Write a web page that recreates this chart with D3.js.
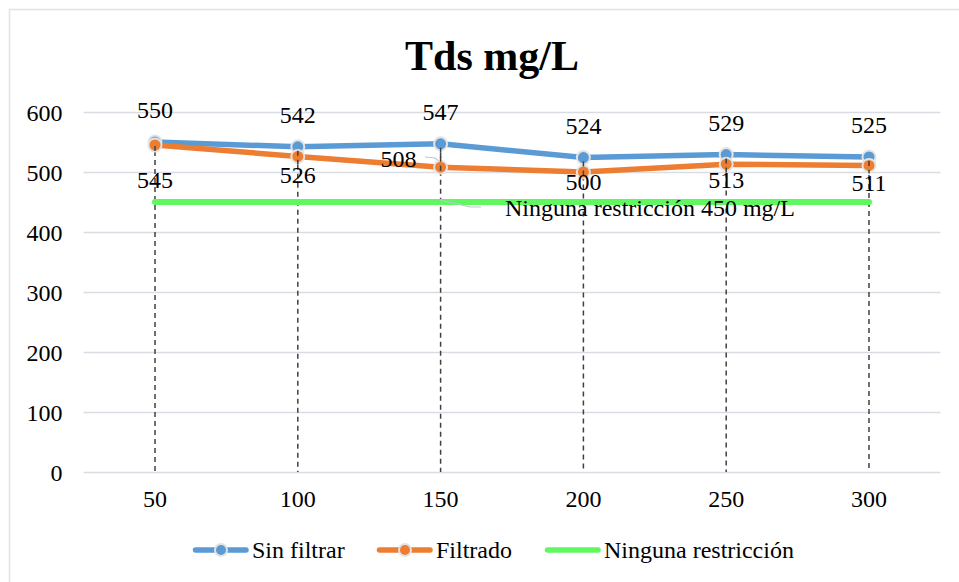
<!DOCTYPE html>
<html>
<head>
<meta charset="utf-8">
<script src="https://cdn.jsdelivr.net/npm/d3@7"></script>
<style>
  body { margin: 0; background: #fff; }
  svg text { font-family: "Liberation Serif", "Times New Roman", serif; fill: #000; }
</style>
</head>
<body>
<svg id="chart" width="959" height="582"></svg>
<script>
// data
var categories = ['50', '100', '150', '200', '250', '300'];
var sinFiltrar = [550, 542, 547, 524, 529, 525];
var filtrado = [545, 526, 508, 500, 513, 511];
var restriccion = [450, 450, 450, 450, 450, 450];
var yTicks = [0, 100, 200, 300, 400, 500, 600];

// how far below the point each orange label sits (excel pushed them around)
var filtradoLabelDy = [43, 27, 0, 18, 24, 26];

var colors = {blue: '#5B9BD5', orange: '#ED7D31', green: '#5FF85F'};
var fontSize = '24px';

var svg = d3.select('#chart');

// chart border
svg.append('rect')
    .attr('x', 9.5).attr('y', 9.5)
    .attr('width', 960).attr('height', 580)
    .attr('fill', '#fff')
    .attr('stroke', '#DEE3EA').attr('stroke-width', 1.5);

// plot area (don't call it "top", that's window.top)
var plot = {left: 83.6, right: 940.4, top: 112, bottom: 472};

var x = d3.scaleBand().domain(categories).range([plot.left, plot.right]);
var y = d3.scaleLinear().domain([0, 600]).range([plot.bottom, plot.top]);
var cx = function(c){ return x(c) + x.bandwidth() / 2; };

// title
svg.append('text')
    .attr('x', 492).attr('y', 70)
    .attr('text-anchor', 'middle')
    .style('font-size', '42px').style('font-weight', 'bold')
    .text('Tds mg/L');

// gridlines + y labels
var yAxis = d3.axisLeft(y).tickValues(yTicks).tickSize(-(plot.right - plot.left)).tickPadding(21);
var gy = svg.append('g').attr('transform', 'translate(' + plot.left + ',0)').call(yAxis);
gy.select('.domain').remove();
gy.selectAll('.tick line').attr('stroke', '#D9DDE3').attr('stroke-width', 1.5);
gy.selectAll('.tick text').style('font-size', fontSize).attr('dy', '0.34em')
    .style('font-family', '"Liberation Serif", serif');

// x labels
var xAxis = d3.axisBottom(x).tickSize(0).tickPadding(18);
var gx = svg.append('g').attr('transform', 'translate(0,' + plot.bottom + ')').call(xAxis);
gx.select('.domain').remove();
gx.selectAll('.tick text').style('font-size', fontSize).attr('dy', '0.71em')
    .style('font-family', '"Liberation Serif", serif');

// drop lines
var maxVals = categories.map(function(c, i){ return Math.max(sinFiltrar[i], filtrado[i]); });
svg.append('g').selectAll('line')
    .data(categories)
    .join('line')
    .attr('x1', function(d){ return cx(d); })
    .attr('x2', function(d){ return cx(d); })
    .attr('y1', function(d, i){ return y(maxVals[i]); })
    .attr('y2', plot.bottom)
    .attr('stroke', '#404040').attr('stroke-width', 1.5)
    .attr('stroke-dasharray', '5,4');

var line = d3.line()
    .x(function(d, i){ return cx(categories[i]); })
    .y(function(d){ return y(d); });

// green restriction line
svg.append('path').datum(restriccion)
    .attr('d', line).attr('fill', 'none')
    .attr('stroke', colors.green).attr('stroke-width', 6).attr('stroke-linecap', 'round');

// leader lines for the moved labels
svg.append('path').attr('d', 'M440,200 L470,207 L481,207')
    .attr('fill', 'none').attr('stroke', '#BFC5CE').attr('stroke-width', 1.2);
svg.append('path').attr('d', 'M425,157 L435,158 L440,162')
    .attr('fill', 'none').attr('stroke', '#BFC5CE').attr('stroke-width', 1.2);

function drawSeries(values, color){
    svg.append('path').datum(values)
        .attr('d', line).attr('fill', 'none')
        .attr('stroke', color).attr('stroke-width', 5.5)
        .attr('stroke-linejoin', 'round').attr('stroke-linecap', 'round');
    svg.append('g').selectAll('circle')
        .data(values)
        .join('circle')
        .attr('cx', function(d, i){ return cx(categories[i]); })
        .attr('cy', function(d){ return y(d); })
        .attr('r', 6.5)
        .attr('fill', color)
        .attr('stroke', '#E3E3E3').attr('stroke-width', 2);
}
drawSeries(sinFiltrar, colors.blue);
drawSeries(filtrado, colors.orange);

// redraw the dashes over the markers (they sit on top in the reference)
svg.append('g').selectAll('line')
    .data(categories)
    .join('line')
    .attr('x1', function(d){ return cx(d); })
    .attr('x2', function(d){ return cx(d); })
    .attr('y1', function(d, i){ return y(maxVals[i]) + 4; })
    .attr('y2', function(d, i){ return y(Math.min(sinFiltrar[i], filtrado[i])) + 8; })
    .attr('stroke', '#404040').attr('stroke-width', 1.5)
    .attr('stroke-dasharray', '5,4');

// data labels
svg.append('g').selectAll('text')
    .data(sinFiltrar)
    .join('text')
    .attr('x', function(d, i){ return cx(categories[i]); })
    .attr('y', function(d){ return y(d) - 24; })
    .attr('text-anchor', 'middle')
    .style('font-size', fontSize)
    .text(function(d){ return d; });

svg.append('g').selectAll('text')
    .data(filtrado)
    .join('text')
    .attr('x', function(d, i){ return i == 2 ? cx(categories[i]) - 24 : cx(categories[i]); })
    .attr('y', function(d, i){ return y(d) + filtradoLabelDy[i]; })
    .attr('text-anchor', function(d, i){ return i == 2 ? 'end' : 'middle'; })
    .style('font-size', fontSize)
    .text(function(d){ return d; });

svg.append('text')
    .attr('x', 505).attr('y', 216)
    .style('font-size', fontSize)
    .text('Ninguna restricción 450 mg/L');

// legend
var legend = [
    {name: 'Sin filtrar', color: colors.blue, marker: true, x: 193},
    {name: 'Filtrado', color: colors.orange, marker: true, x: 377},
    {name: 'Ninguna restricción', color: colors.green, marker: false, x: 545}
];
var lg = svg.append('g').selectAll('g').data(legend).join('g')
    .attr('transform', function(d){ return 'translate(' + d.x + ',550)'; });
lg.append('line')
    .attr('x1', 2.5).attr('x2', 53)
    .attr('stroke', function(d){ return d.color; })
    .attr('stroke-width', 5.5).attr('stroke-linecap', 'round');
lg.filter(function(d){ return d.marker; }).append('circle')
    .attr('cx', 28).attr('r', 6)
    .attr('fill', function(d){ return d.color; })
    .attr('stroke', '#E3E3E3').attr('stroke-width', 2);
lg.append('text')
    .attr('x', 59).attr('y', 8)
    .style('font-size', fontSize)
    .text(function(d){ return d.name; });
</script>
</body>
</html>
